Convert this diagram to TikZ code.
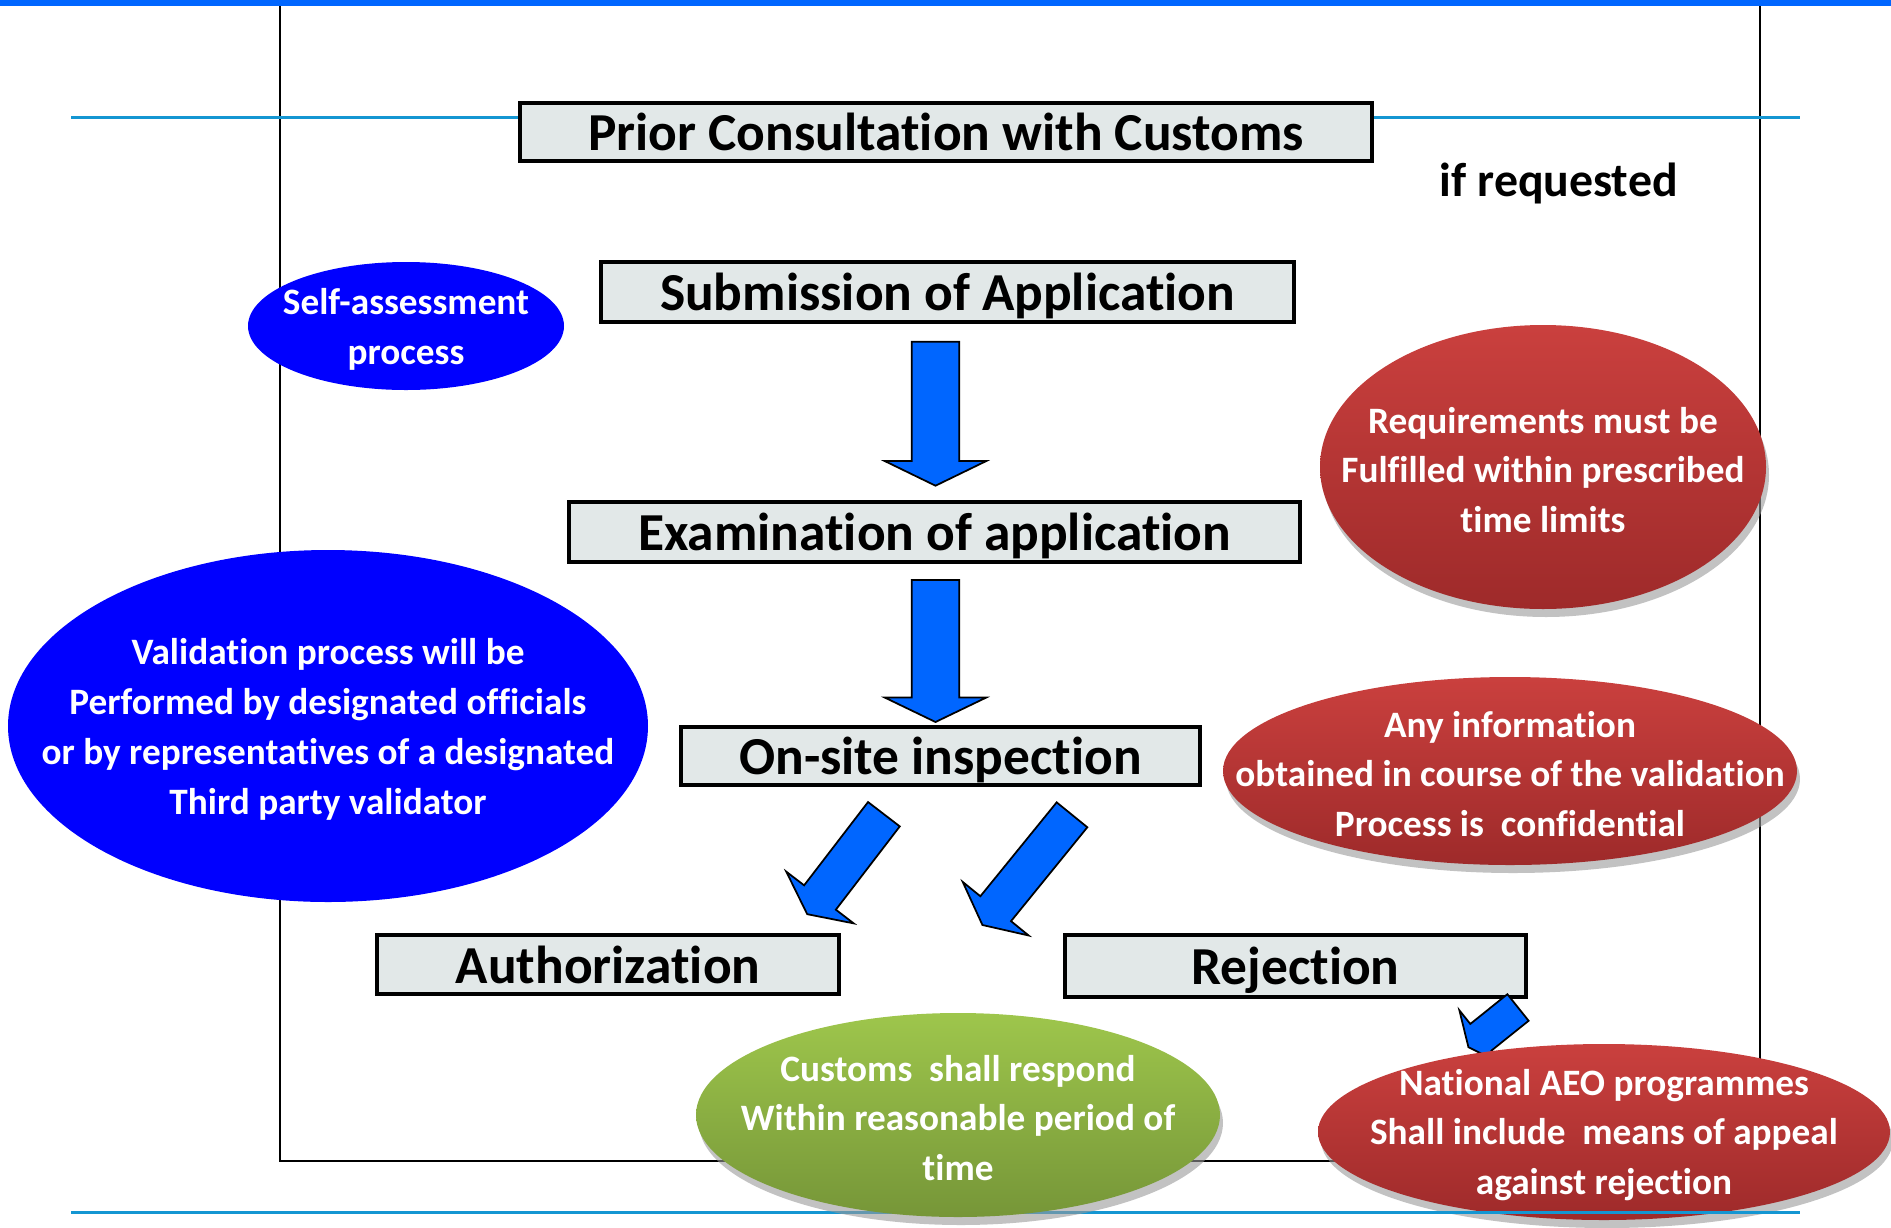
\documentclass[tikz,border=0pt]{standalone}
\usepackage{fontspec}
\setmainfont{Carlito}[Ligatures=NoCommon]
\usetikzlibrary{shapes.geometric,shadows}

\definecolor{barblue}{RGB}{0,102,255}
\definecolor{rulecyan}{RGB}{20,150,210}
\definecolor{boxgray}{RGB}{226,232,232}
\definecolor{ovalblue}{RGB}{0,0,255}
\definecolor{redtop}{RGB}{202,64,62}
\definecolor{redbot}{RGB}{158,42,42}
\definecolor{greentop}{RGB}{158,198,76}
\definecolor{greenbot}{RGB}{118,150,56}
\definecolor{arrowblue}{RGB}{0,102,255}

\tikzset{
    stepbox/.style={draw, line width=1.3pt, fill=boxgray, inner sep=0pt,
        font=\bfseries\fontsize{15.2}{18}\selectfont, text height=1.06em, text depth=0em},
    blueoval/.style={ellipse, fill=ovalblue, inner sep=0pt},
    redoval/.style={ellipse, top color=redtop, bottom color=redbot, inner sep=0pt,
        drop shadow={shadow xshift=0.3mm, shadow yshift=-0.8mm, fill=black!40, opacity=0.6}},
    greenoval/.style={ellipse, top color=greentop, bottom color=greenbot, inner sep=0pt,
        drop shadow={shadow xshift=0.3mm, shadow yshift=-0.8mm, fill=black!40, opacity=0.6}},
    ovaltext/.style={text=white, align=center, yshift=-0.3mm,
        font=\bfseries\fontsize{10.6}{14.2}\selectfont},
    arrowbox/.style={fill=arrowblue, draw=black, line width=0.5pt},
    frameline/.style={draw=black, line width=0.6pt},
    rulerline/.style={draw=rulecyan, line width=0.85pt}
}

% x, y, angle, length, shaft width, head width, head length
\newcommand{\blockarrow}[7]{%
    \draw[arrowbox, shift={(#1,#2)}, rotate=#3]
        (0,{#5/2}) -- ({#4-#7},{#5/2}) -- ({#4-#7},{#6/2}) -- (#4,0)
        -- ({#4-#7},{-#6/2}) -- ({#4-#7},{-#5/2}) -- (0,{-#5/2}) -- cycle;}

\begin{document}
\begin{tikzpicture}[x=0.1mm, y=-0.1mm]
    \useasboundingbox (0,0) rectangle (1891,1228);

    % page decoration
    \fill[barblue] (0,0) rectangle (1891,6);
    \coordinate (ftl) at (280,6);
    \coordinate (fbl) at (280,1161);
    \coordinate (fbr) at (1760,1161);
    \coordinate (ftr) at (1760,6);
    \draw[frameline] (ftl) -- (fbl) -- (fbr) -- (ftr);
    \coordinate (rtl) at (71,117);
    \coordinate (rtr) at (1800,117);
    \draw[rulerline] (rtl) -- (rtr);

    % steps
    \node[stepbox, minimum width=85.2mm, minimum height=5.8mm] (prior) at (946,132) {Prior Consultation with Customs};
    \node[stepbox, minimum width=69.3mm, minimum height=6.0mm] (submit) at (947.5,292) {Submission of Application};
    \node[stepbox, minimum width=73.1mm, minimum height=6.0mm] (exam) at (934.5,532) {Examination of application};
    \node[stepbox, minimum width=51.9mm, minimum height=5.8mm] (onsite) at (940.5,756) {On-site inspection};
    \node[stepbox, minimum width=46.2mm, minimum height=5.9mm] (auth) at (608,964.5) {Authorization};
    \node[stepbox, minimum width=46.1mm, minimum height=6.2mm] (reject) at (1295.5,966) {Rejection};
    \node[font=\bfseries\fontsize{13.6}{16}\selectfont, anchor=base] (ifreq) at (1558.8,196) {if requested};

    % arrows
    \blockarrow{935.5}{341.7}{-90}{144}{47.6}{101.7}{24.7}
    \blockarrow{935.5}{580}{-90}{142}{47.6}{101.7}{24.5}
    \blockarrow{883.9}{814.2}{-127.5}{126}{40}{85}{21}
    \blockarrow{1072}{814.8}{-129.1}{142}{39.5}{85}{21}
    \blockarrow{1518}{1007.5}{-141.3}{63.5}{34}{69}{16}

    % notes
    \node[blueoval, minimum width=31.6mm, minimum height=12.8mm] (selfass) at (406,326) {};
    \node[blueoval, minimum width=64.0mm, minimum height=35.2mm] (valid) at (328,726) {};
    \node[redoval, minimum width=44.6mm, minimum height=28.4mm] (require) at (1543,467) {};
    \node[redoval, minimum width=57.4mm, minimum height=18.8mm] (info) at (1510,771) {};
    \node[redoval, minimum width=57.2mm, minimum height=17.6mm] (appeal) at (1604,1132) {};
    \coordinate (rbl) at (71,1212);
    \coordinate (rbr) at (1800,1212);
    \draw[rulerline] (rbl) -- (rbr);
    \node[greenoval, minimum width=52.4mm, minimum height=20.4mm] (respond) at (958,1115) {};

    \node[ovaltext] (selftext) at (selfass) {Self-assessment\\process};
    \node[ovaltext] (validtext) at (valid) {Validation process will be\\Performed by designated officials\\or by representatives of a designated\\Third party validator};
    \node[ovaltext] (requiretext) at (require) {Requirements must be\\Fulfilled within prescribed\\time limits};
    \node[ovaltext] (infotext) at (info) {Any information\\obtained in course of the validation\\Process is~ confidential};
    \node[ovaltext] (appealtext) at (appeal) {National AEO programmes\\Shall include~ means of appeal\\against rejection};
    \node[ovaltext] (respondtext) at (respond) {Customs~ shall respond\\Within reasonable period of\\time};
\end{tikzpicture}
\end{document}
